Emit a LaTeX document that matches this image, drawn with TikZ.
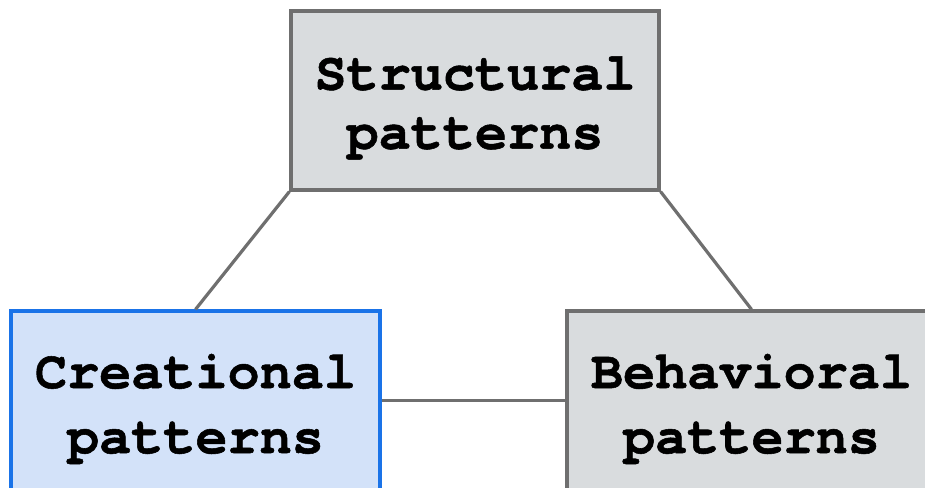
\documentclass[tikz,border=0pt]{standalone}
\usepackage{fontspec}
\newfontfamily\boxfont[FakeBold=1]{texgyrecursor-bold.otf}
\definecolor{grayfill}{HTML}{D9DCDE}
\definecolor{grayline}{HTML}{6F6F6F}
\definecolor{bluefill}{HTML}{D3E2F9}
\definecolor{blueline}{HTML}{1A73E8}
\tikzset{
  patbox/.style={rectangle, draw=grayline, fill=grayfill, line width=3.2pt,
    minimum width=368pt, minimum height=179pt, inner sep=0pt},
  bluebox/.style={patbox, draw=blueline, fill=bluefill},
  conn/.style={draw=grayline, line width=3.2pt},
  toptext/.style={inner sep=0pt, align=center, font=\boxfont\fontsize{53.5}{59}\selectfont},
  lowtext/.style={inner sep=0pt, align=center, font=\boxfont\fontsize{53.5}{65}\selectfont}
}
\begin{document}
\begin{tikzpicture}[x=1pt, y=-1pt]
\useasboundingbox (0,0) rectangle (925,487);
\clip (0,0) rectangle (925,487);
\node[patbox] (s) at (475,100.5) {};
\node[bluebox, minimum width=369pt] (c) at (195.5,400.5) {};
\node[patbox, minimum width=369pt] (b) at (751.5,400.5) {};
\draw[conn] (s.south west) -- (c.north);
\draw[conn] (s.south east) -- (b.north);
\draw[conn] (c.east) -- (b.west);
\node[toptext] (st) at (475,108) {Structural\\patterns};
\node[lowtext] (ct) at (195.5,409) {Creational\\patterns};
\node[lowtext] (bt) at (751.5,409) {Behavioral\\patterns};
\end{tikzpicture}
\end{document}
